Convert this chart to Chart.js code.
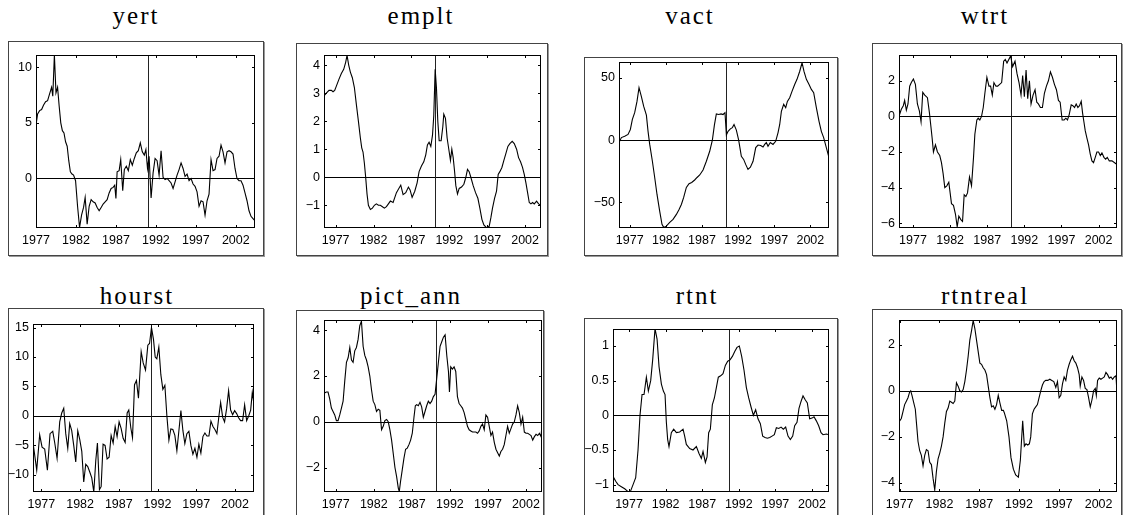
<!DOCTYPE html>
<html><head><meta charset="utf-8">
<script src="https://cdn.jsdelivr.net/npm/chart.js@4.4.1/dist/chart.umd.min.js"></script>
<style>
html,body{margin:0;padding:0;background:#fff;width:1125px;height:515px;overflow:hidden;}
body{position:relative;}
.box{position:absolute;border:1px solid #444;box-sizing:border-box;box-shadow:1px 1px 0 #999;}
.title{position:absolute;font-family:'Liberation Serif',serif;font-size:25px;letter-spacing:2px;color:#000;transform:translate(-50%,-50%);white-space:nowrap;line-height:1;}
.wrap{position:absolute;}
</style></head><body>
<script>
// ---------- data (year, value) ----------
const TITLES = ['yert','emplt','vact','wtrt','hourst','pict_ann','rtnt','rtntreal'];
const YEAR_TICKS = [1977,1982,1987,1992,1997,2002];

const yert = [[1977.0,4.8],[1977.2,5.8],[1977.45,6.1],[1977.7,6.2],[1977.95,6.6],[1978.2,6.9],[1978.45,7.0],[1978.7,7.6],[1978.95,8.2],[1979.1,7.4],[1979.3,11.1],[1979.5,7.7],[1979.7,8.2],[1979.9,6.5],[1980.1,5.0],[1980.3,4.3],[1980.5,4.1],[1980.7,3.3],[1980.9,2.9],[1981.1,1.6],[1981.3,0.6],[1981.5,0.4],[1981.7,0.3],[1981.95,-0.2],[1982.2,-2.5],[1982.45,-4.4],[1982.7,-3.3],[1982.95,-2.6],[1983.15,-1.7],[1983.4,-4.1],[1983.65,-2.5],[1983.9,-1.9],[1984.15,-2.1],[1984.4,-2.2],[1984.65,-2.6],[1984.9,-2.9],[1985.15,-2.6],[1985.4,-2.3],[1985.65,-2.1],[1985.9,-1.9],[1986.15,-1.3],[1986.4,-0.9],[1986.65,-0.8],[1986.85,-0.6],[1987.0,-1.8],[1987.15,0.6],[1987.4,0.7],[1987.6,1.7],[1987.85,-1.1],[1988.05,0.8],[1988.3,1.1],[1988.55,0.7],[1988.8,1.7],[1989.05,1.2],[1989.3,1.8],[1989.55,2.3],[1989.8,2.5],[1990.05,3.2],[1990.3,2.4],[1990.55,2.1],[1990.75,2.6],[1990.95,0.9],[1991.15,2.0],[1991.4,-1.75],[1991.65,0.5],[1991.9,1.8],[1992.15,1.6],[1992.4,0.3],[1992.65,2.5],[1992.9,0.1],[1993.15,-0.1],[1993.4,0.0],[1993.65,-0.2],[1993.9,-0.4],[1994.15,-0.9],[1994.4,-0.3],[1994.65,0.3],[1994.9,0.8],[1995.15,1.4],[1995.4,0.9],[1995.65,0.2],[1995.9,0.4],[1996.15,-0.2],[1996.4,0.0],[1996.65,-0.5],[1996.9,-0.7],[1997.15,-1.2],[1997.4,-2.5],[1997.65,-2.0],[1997.9,-2.1],[1998.15,-3.3],[1998.4,-2.0],[1998.65,-1.4],[1998.9,1.7],[1999.15,0.7],[1999.4,0.8],[1999.65,1.8],[1999.9,2.0],[2000.15,3.0],[2000.4,2.4],[2000.65,1.4],[2000.9,2.4],[2001.15,2.5],[2001.4,2.4],[2001.65,2.2],[2001.9,0.9],[2002.15,0.0],[2002.4,-0.2],[2002.65,-0.2],[2002.9,-0.6],[2003.15,-1.3],[2003.4,-2.0],[2003.65,-2.9],[2003.9,-3.4],[2004.15,-3.6],[2004.4,-3.8]];

const emplt = [[1975.46,2.9],[1975.77,3.0],[1976.12,3.1],[1976.43,3.1],[1976.65,3.05],[1976.87,3.1],[1977.09,3.25],[1977.44,3.5],[1977.75,3.7],[1978.06,3.85],[1978.32,4.1],[1978.5,4.35],[1978.72,4.0],[1978.94,3.75],[1979.2,3.55],[1979.47,3.2],[1979.73,2.6],[1980.0,2.0],[1980.26,1.4],[1980.44,1.05],[1980.61,0.9],[1980.79,0.5],[1980.96,0.0],[1981.14,-0.6],[1981.32,-1.0],[1981.58,-1.15],[1981.85,-1.1],[1982.11,-1.0],[1982.37,-0.95],[1982.64,-1.0],[1982.9,-1.0],[1983.17,-1.05],[1983.43,-1.1],[1983.7,-1.05],[1983.96,-0.95],[1984.22,-0.85],[1984.58,-0.9],[1985.02,-0.55],[1985.59,-0.28],[1985.9,-0.62],[1986.25,-0.55],[1986.6,-0.35],[1986.82,-0.45],[1987.09,-0.72],[1987.44,-0.5],[1987.75,-0.2],[1988.01,0.2],[1988.32,0.4],[1988.63,0.55],[1988.89,0.8],[1989.11,1.15],[1989.33,1.25],[1989.56,1.1],[1989.78,1.5],[1989.95,2.2],[1990.13,3.85],[1990.3,3.2],[1990.48,2.0],[1990.66,1.3],[1990.92,1.3],[1991.14,1.8],[1991.27,2.25],[1991.49,2.1],[1991.71,1.4],[1991.93,1.0],[1992.15,0.6],[1992.33,1.0],[1992.51,0.7],[1992.68,0.25],[1992.86,-0.3],[1993.08,-0.6],[1993.3,-0.4],[1993.61,-0.35],[1993.92,-0.25],[1994.18,0.0],[1994.4,0.28],[1994.62,0.2],[1994.84,0.0],[1995.15,-0.3],[1995.46,-0.55],[1995.77,-0.75],[1996.03,-1.1],[1996.3,-1.5],[1996.56,-1.7],[1996.91,-1.8],[1997.26,-1.75],[1997.48,-1.45],[1997.7,-1.1],[1997.97,-0.75],[1998.23,-0.5],[1998.45,0.1],[1998.67,0.2],[1998.94,0.35],[1999.2,0.6],[1999.47,0.85],[1999.73,1.1],[1999.99,1.2],[2000.3,1.28],[2000.57,1.2],[2000.88,1.0],[2001.14,0.7],[2001.4,0.55],[2001.66,0.35],[2001.89,0.1],[2002.11,-0.2],[2002.33,-0.55],[2002.55,-0.9],[2002.77,-0.95],[2002.99,-0.9],[2003.21,-0.95],[2003.52,-0.85],[2003.78,-0.95],[2004.09,-1.0]];

const vact = [[1975.52,-2],[1975.85,2],[1976.31,3],[1976.77,4.5],[1977.09,8.5],[1977.37,16.6],[1977.69,22],[1978.01,31],[1978.29,42],[1978.61,35],[1978.94,27],[1979.31,20],[1979.54,7],[1979.77,-3.5],[1980.14,-17],[1980.46,-30],[1980.78,-43.6],[1981.15,-57],[1981.47,-67.6],[1981.7,-70],[1982.07,-69],[1982.54,-66],[1983.0,-63.6],[1983.46,-59.6],[1983.83,-55.6],[1984.15,-51.6],[1984.47,-46],[1984.84,-38],[1985.21,-35],[1985.58,-34],[1985.99,-32],[1986.32,-30],[1986.69,-28],[1987.15,-24],[1987.61,-17],[1988.07,-9],[1988.44,0],[1988.72,12],[1988.99,21],[1989.32,20.5],[1989.64,21],[1989.92,20.5],[1990.19,22],[1990.38,4],[1990.61,7],[1990.93,9],[1991.21,10],[1991.44,12.5],[1991.76,8],[1992.08,0],[1992.45,-13],[1992.77,-15.5],[1993.05,-19.5],[1993.37,-23.5],[1993.7,-21.7],[1994.07,-17],[1994.44,-6],[1994.76,-4],[1995.13,-4.3],[1995.45,-5.6],[1995.68,-3.5],[1995.91,-2],[1996.14,-5],[1996.46,-2],[1996.83,-3.5],[1997.2,-1],[1997.53,6],[1997.76,12.5],[1997.99,23],[1998.31,28.6],[1998.59,26],[1998.82,31],[1999.14,34],[1999.46,39],[1999.83,44.6],[2000.15,48.7],[2000.52,55],[2000.85,62],[2001.12,55],[2001.45,48.7],[2001.82,44.6],[2002.14,40.6],[2002.46,38],[2002.83,26],[2003.2,15],[2003.52,7],[2003.84,2],[2004.21,-6],[2004.58,-14]];

const wtrt = [[1975.11,0.0],[1975.42,0.4],[1975.69,0.6],[1975.87,0.9],[1976.1,0.35],[1976.32,0.7],[1976.55,1.7],[1976.77,1.9],[1977.05,2.1],[1977.32,1.8],[1977.59,0.7],[1977.86,0.3],[1978.08,-0.3],[1978.31,1.35],[1978.58,1.2],[1978.94,1.05],[1979.21,0.2],[1979.39,-0.5],[1979.57,-1.2],[1979.75,-2.0],[1980.02,-1.6],[1980.29,-2.0],[1980.6,-2.2],[1980.83,-2.6],[1981.05,-3.2],[1981.28,-4.0],[1981.55,-3.9],[1981.82,-3.7],[1982.0,-4.3],[1982.18,-4.9],[1982.45,-5.0],[1982.72,-5.5],[1982.95,-6.2],[1983.17,-5.6],[1983.44,-5.8],[1983.67,-5.9],[1983.89,-4.4],[1984.12,-4.5],[1984.34,-4.3],[1984.61,-3.4],[1984.88,-3.9],[1985.15,-2.3],[1985.33,-1.0],[1985.6,-0.2],[1985.78,-0.1],[1986.0,-0.2],[1986.23,0.0],[1986.46,0.5],[1986.68,1.3],[1986.95,2.2],[1987.23,1.7],[1987.45,1.7],[1987.68,1.2],[1987.9,1.9],[1988.17,1.7],[1988.4,1.7],[1988.67,1.8],[1988.94,1.9],[1989.21,3.1],[1989.43,3.2],[1989.66,3.0],[1990.15,3.4],[1990.42,2.8],[1990.74,3.1],[1991.01,2.4],[1991.28,1.9],[1991.55,1.2],[1991.77,2.3],[1992.0,1.1],[1992.23,2.6],[1992.45,1.0],[1992.68,2.0],[1992.9,0.7],[1993.17,1.2],[1993.44,1.5],[1993.67,0.8],[1993.89,0.7],[1994.16,0.5],[1994.43,0.5],[1994.7,1.3],[1994.97,1.7],[1995.24,2.0],[1995.51,2.5],[1995.78,2.2],[1996.05,1.8],[1996.32,1.5],[1996.59,0.9],[1996.82,0.8],[1997.09,-0.2],[1997.36,-0.2],[1997.59,-0.1],[1997.81,-0.2],[1998.04,0.1],[1998.31,0.65],[1998.53,0.6],[1998.76,0.5],[1998.98,0.7],[1999.21,0.5],[1999.43,0.6],[1999.66,0.85],[1999.84,0.2],[2000.02,-0.3],[2000.2,-0.8],[2000.42,-1.2],[2000.65,-1.6],[2000.87,-2.1],[2001.1,-2.5],[2001.32,-2.6],[2001.55,-2.3],[2001.77,-2.0],[2002.0,-2.0],[2002.23,-2.2],[2002.45,-2.05],[2002.72,-2.3],[2002.95,-2.4],[2003.17,-2.3],[2003.44,-2.5],[2003.8,-2.5],[2004.48,-2.7]];

const hourst = [[1975.92,-4.5],[1976.4,-9.2],[1976.78,-3.2],[1977.09,-5.3],[1977.43,-5.6],[1977.78,-9.2],[1978.12,-3.0],[1978.47,-2.6],[1978.72,-4.5],[1979.03,-7.2],[1979.37,-1.0],[1979.63,0.5],[1979.89,1.3],[1980.15,-3.0],[1980.41,-5.5],[1980.66,-1.3],[1980.92,-2.5],[1981.18,-5.0],[1981.44,-7.8],[1981.7,-2.5],[1981.96,-4.0],[1982.22,-6.0],[1982.47,-11.2],[1982.73,-8.2],[1982.99,-8.6],[1983.25,-9.5],[1983.51,-10.5],[1983.77,-12.9],[1984.03,-7.5],[1984.24,-4.6],[1984.5,-12.5],[1984.72,-12.0],[1984.97,-4.8],[1985.23,-5.0],[1985.49,-7.3],[1985.75,-7.0],[1986.01,-3.3],[1986.27,-4.6],[1986.53,-1.8],[1986.78,-3.5],[1987.04,-1.0],[1987.3,-2.1],[1987.56,-3.8],[1987.82,-4.5],[1988.08,0.5],[1988.29,1.0],[1988.55,-2.0],[1988.77,-3.7],[1989.03,5.3],[1989.28,6.0],[1989.54,3.0],[1989.89,10.9],[1990.15,9.0],[1990.45,7.8],[1990.75,12.0],[1990.97,12.3],[1991.22,15.0],[1991.48,13.0],[1991.7,10.0],[1991.91,9.7],[1992.17,11.7],[1992.43,7.0],[1992.69,4.5],[1992.95,5.2],[1993.21,0.0],[1993.47,-4.1],[1993.72,-2.2],[1993.98,-2.3],[1994.24,-3.3],[1994.5,-5.9],[1994.76,-2.5],[1995.02,0.9],[1995.28,-2.5],[1995.53,-4.7],[1995.79,-3.0],[1996.05,-2.6],[1996.31,-5.0],[1996.57,-6.5],[1996.83,-5.5],[1997.09,-7.0],[1997.34,-4.8],[1997.6,-6.3],[1997.86,-3.5],[1998.12,-2.9],[1998.38,-3.4],[1998.64,-3.4],[1998.9,-0.9],[1999.16,-1.8],[1999.41,-2.3],[1999.67,-3.0],[1999.93,0.0],[2000.15,2.3],[2000.41,-0.2],[2000.66,-1.0],[2000.92,1.2],[2001.18,4.3],[2001.44,1.0],[2001.7,0.2],[2001.96,0.9],[2002.22,0.4],[2002.47,-0.3],[2002.73,-0.8],[2002.99,-0.8],[2003.25,1.9],[2003.51,-0.8],[2003.77,0.0],[2004.03,1.0],[2004.24,4.0],[2004.46,2.0]];

const pict_ann = [[1975.46,1.25],[1975.77,1.3],[1975.99,1.3],[1976.21,1.0],[1976.43,0.6],[1976.65,0.45],[1976.87,0.3],[1977.09,0.05],[1977.31,0.05],[1977.53,0.3],[1977.75,0.6],[1977.97,0.9],[1978.19,1.8],[1978.41,2.6],[1978.63,2.8],[1978.85,3.25],[1979.07,2.7],[1979.28,2.6],[1979.5,3.1],[1979.72,3.25],[1979.94,3.6],[1980.16,4.2],[1980.38,4.4],[1980.6,3.3],[1980.82,2.9],[1981.04,2.7],[1981.26,2.4],[1981.48,2.0],[1981.7,1.4],[1981.92,0.9],[1982.14,0.75],[1982.36,0.45],[1982.58,0.55],[1982.8,0.5],[1983.02,-0.35],[1983.24,-0.2],[1983.46,0.05],[1983.68,0.1],[1983.9,0.0],[1984.12,-0.35],[1984.34,-0.8],[1984.56,-1.4],[1984.78,-2.0],[1985.0,-2.4],[1985.22,-2.9],[1985.35,-3.05],[1985.52,-2.6],[1985.74,-2.1],[1985.96,-1.6],[1986.18,-1.2],[1986.4,-1.15],[1986.62,-1.0],[1986.84,-0.8],[1987.06,-0.5],[1987.28,0.2],[1987.46,0.7],[1987.63,0.75],[1987.85,0.7],[1988.07,0.85],[1988.29,0.65],[1988.51,0.2],[1988.73,0.45],[1988.95,0.7],[1989.17,0.9],[1989.39,0.8],[1989.61,0.9],[1989.83,1.1],[1990.05,1.2],[1990.27,1.9],[1990.49,2.6],[1990.71,3.3],[1990.93,3.5],[1991.15,3.7],[1991.37,3.8],[1991.59,2.9],[1991.81,2.2],[1991.94,1.3],[1992.11,2.4],[1992.33,2.3],[1992.55,2.4],[1992.77,2.2],[1992.99,1.1],[1993.21,0.8],[1993.43,0.7],[1993.65,0.6],[1993.87,0.4],[1994.09,0.1],[1994.31,-0.2],[1994.53,-0.35],[1994.75,-0.4],[1994.97,-0.45],[1995.19,-0.45],[1995.41,-0.45],[1995.63,-0.5],[1995.85,-0.4],[1996.07,-0.2],[1996.29,-0.1],[1996.51,-0.35],[1996.73,0.3],[1996.95,0.2],[1997.17,-0.2],[1997.39,-0.6],[1997.6,-0.45],[1997.83,-0.9],[1998.05,-1.2],[1998.27,-1.35],[1998.49,-1.5],[1998.7,-1.3],[1998.92,-1.2],[1999.14,-1.0],[1999.36,-0.6],[1999.58,-0.2],[1999.8,-0.5],[2000.02,-0.3],[2000.24,-0.1],[2000.46,0.0],[2000.68,0.3],[2000.9,0.7],[2001.12,0.4],[2001.34,-0.1],[2001.56,0.2],[2001.78,-0.45],[2002.0,-0.5],[2002.22,-0.5],[2002.44,-0.55],[2002.66,-0.6],[2002.88,-0.8],[2003.1,-0.65],[2003.32,-0.55],[2003.54,-0.6],[2003.76,-0.5],[2003.98,-0.65],[2004.11,-0.05]];

const rtnt = [[1974.81,-0.88],[1975.18,-0.95],[1975.5,-1.0],[1975.95,-1.03],[1976.41,-1.06],[1976.86,-1.1],[1977.18,-1.1],[1977.55,-1.0],[1977.91,-0.9],[1978.23,-0.5],[1978.5,0.0],[1978.78,0.3],[1979.05,0.3],[1979.37,0.55],[1979.64,0.35],[1979.96,0.5],[1980.23,0.8],[1980.55,1.25],[1980.83,1.1],[1981.1,0.7],[1981.42,0.45],[1981.69,0.35],[1981.92,0.3],[1982.1,-0.1],[1982.28,-0.35],[1982.46,-0.45],[1982.78,-0.25],[1983.1,-0.2],[1983.47,-0.25],[1983.92,-0.24],[1984.38,-0.2],[1984.6,-0.3],[1984.83,-0.42],[1985.29,-0.48],[1985.74,-0.5],[1986.2,-0.45],[1986.56,-0.55],[1986.88,-0.62],[1987.11,-0.52],[1987.43,-0.68],[1987.66,-0.6],[1987.88,-0.25],[1988.11,-0.2],[1988.38,0.15],[1988.66,0.25],[1988.93,0.4],[1989.2,0.55],[1989.52,0.57],[1989.84,0.6],[1990.16,0.72],[1990.48,0.78],[1990.8,0.8],[1991.12,0.85],[1991.44,0.92],[1991.75,0.98],[1992.07,1.0],[1992.39,0.85],[1992.71,0.65],[1993.03,0.4],[1993.35,0.25],[1993.67,0.12],[1993.99,0.0],[1994.3,0.08],[1994.62,-0.05],[1994.94,-0.12],[1995.26,-0.3],[1995.58,-0.32],[1995.9,-0.33],[1996.22,-0.32],[1996.54,-0.3],[1996.85,-0.28],[1997.13,-0.18],[1997.45,-0.19],[1997.77,-0.17],[1998.08,-0.2],[1998.4,-0.17],[1998.72,-0.3],[1999.04,-0.35],[1999.36,-0.3],[1999.63,-0.15],[1999.95,-0.1],[2000.22,0.1],[2000.5,0.2],[2000.77,0.28],[2001.09,0.22],[2001.36,0.18],[2001.68,-0.05],[2002.0,-0.04],[2002.27,-0.02],[2002.59,-0.08],[2002.91,-0.15],[2003.23,-0.25],[2003.5,-0.28],[2003.96,-0.27],[2004.32,-0.28]];

const rtntreal = [[1976.92,-1.35],[1977.21,-1.2],[1977.42,-0.9],[1977.63,-0.6],[1977.84,-0.45],[1978.05,-0.3],[1978.26,-0.05],[1978.39,0.0],[1978.55,-0.2],[1978.76,-0.5],[1978.97,-0.8],[1979.14,-1.5],[1979.31,-2.2],[1979.52,-2.6],[1979.73,-2.8],[1979.94,-3.25],[1980.15,-2.8],[1980.36,-2.55],[1980.57,-2.6],[1980.78,-3.1],[1980.99,-3.2],[1981.2,-3.8],[1981.41,-4.3],[1981.62,-3.5],[1981.83,-2.95],[1982.04,-2.7],[1982.25,-2.4],[1982.46,-2.0],[1982.67,-1.4],[1982.88,-0.9],[1983.09,-0.75],[1983.3,-0.45],[1983.51,-0.5],[1983.72,-0.55],[1983.93,-0.45],[1984.14,0.35],[1984.35,0.2],[1984.56,0.0],[1984.77,-0.05],[1984.98,0.05],[1985.19,0.4],[1985.4,0.9],[1985.61,1.5],[1985.82,2.2],[1986.03,2.6],[1986.24,3.05],[1986.45,2.7],[1986.66,2.2],[1986.87,1.7],[1987.08,1.2],[1987.29,1.15],[1987.5,1.0],[1987.71,0.9],[1987.92,0.7],[1988.13,0.2],[1988.34,-0.3],[1988.55,-0.7],[1988.76,-0.65],[1988.97,-0.8],[1989.18,-0.6],[1989.39,-0.2],[1989.61,-0.55],[1989.82,-0.85],[1990.03,-0.85],[1990.15,-0.95],[1990.45,-1.3],[1990.74,-2.0],[1990.99,-2.9],[1991.29,-3.4],[1991.58,-3.65],[1991.92,-3.75],[1992.17,-3.0],[1992.46,-1.3],[1992.67,-2.4],[1992.88,-2.3],[1993.09,-2.35],[1993.3,-2.3],[1993.47,-2.0],[1993.68,-1.0],[1993.89,-0.8],[1994.1,-0.7],[1994.31,-0.6],[1994.52,-0.3],[1994.73,0.0],[1994.94,0.25],[1995.15,0.4],[1995.36,0.45],[1995.61,0.45],[1995.87,0.5],[1996.12,0.45],[1996.37,0.4],[1996.62,0.15],[1996.83,0.4],[1997.04,-0.3],[1997.25,-0.2],[1997.46,0.3],[1997.67,0.6],[1997.88,0.45],[1998.09,0.9],[1998.3,1.15],[1998.51,1.35],[1998.72,1.5],[1998.93,1.3],[1999.14,1.2],[1999.35,1.0],[1999.56,0.7],[1999.69,0.2],[1999.9,0.6],[2000.11,0.45],[2000.32,0.1],[2000.53,0.05],[2000.74,-0.3],[2000.95,-0.7],[2001.16,-0.4],[2001.37,0.0],[2001.58,0.1],[2001.71,-0.2],[2001.87,0.45],[2002.08,0.55],[2002.29,0.5],[2002.5,0.55],[2002.71,0.6],[2002.92,0.8],[2003.13,0.7],[2003.34,0.55],[2003.55,0.6],[2003.76,0.5],[2003.97,0.6],[2004.18,0.65],[2004.31,-0.1]];

// y tick labels
const yertTicks = [0,5,10];
const empltTicks = [-1,0,1,2,3,4];
const vactTicks = [-50,0,50];
const wtrtTicks = [-6,-4,-2,0,2];
const hourstTicks = [-10,-5,0,5,10,15];
const pictTicks = [-2,0,2,4];
const rtntTicks = [-1,-0.5,0,0.5,1];
const rtntrealTicks = [-4,-2,0,2];

// axis ranges [xmin, xmax, ymin, ymax] and vertical marker year
const RANGES = [
  [1977.0, 2004.4, -4.45, 11.1],
  [1975.46, 2004.1, -1.81, 4.36],
  [1975.52, 2004.58, -70.5, 62.6],
  [1975.11, 2004.48, -6.27, 3.45],
  [1975.92, 2004.46, -12.9, 15.6],
  [1975.46, 2004.1, -3.07, 4.45],
  [1974.81, 2004.32, -1.106, 1.245],
  [1976.92, 2004.31, -4.39, 3.07]
];
const VLINES = [1991.0, 1990.15, 1990.38, 1990.2, 1991.22, 1990.14, 1990.62, null];

const SERIES = [yert, emplt, vact, wtrt, hourst, pict_ann, rtnt, rtntreal];
const YTICKS = [yertTicks, empltTicks, vactTicks, wtrtTicks, hourstTicks, pictTicks, rtntTicks, rtntrealTicks];

// ---------- layout (pixels) ----------
const LAYOUT = [
  {box:[8,41,264,256],   plot:[36,55,255,228],  title:[136,15]},
  {box:[296,43,548,256], plot:[324,55,541,228], title:[421,15]},
  {box:[584,57,838,256], plot:[619,62,829,228], title:[690,15]},
  {box:[872,43,1122,256],plot:[899,55,1117,228],title:[985,15]},
  {box:[8,308,264,520],  plot:[33,324,254,492], title:[137,295]},
  {box:[296,310,544,520],plot:[324,320,542,492],title:[411,295]},
  {box:[584,318,838,520],plot:[613,329,829,492],title:[697,295]},
  {box:[872,309,1122,520],plot:[899,320,1117,492],title:[985,295]}
];
const YW = 40, PT = 14, PR = 18, XH = 24;
const TICKFONT = {family:"'Liberation Sans', Arial, sans-serif", size:12.5};

const refPlugin = {
  id: 'refs',
  beforeDatasetsDraw(chart, args, opts) {
    const {ctx, chartArea: a, scales: {x, y}} = chart;
    ctx.save();
    ctx.lineWidth = 1;
    ctx.strokeStyle = '#000';
    const y0 = Math.round(y.getPixelForValue(0)) + 0.5;
    ctx.beginPath(); ctx.moveTo(a.left, y0); ctx.lineTo(a.right, y0); ctx.stroke();
    if (opts.vline !== null && opts.vline !== undefined) {
      const xv = Math.round(x.getPixelForValue(opts.vline)) + 0.5;
      ctx.strokeStyle = '#222';
      ctx.beginPath(); ctx.moveTo(xv, a.top); ctx.lineTo(xv, a.bottom); ctx.stroke();
    }
    ctx.restore();
  },
  afterDraw(chart) {
    const {ctx, chartArea: a, scales: {x, y}} = chart;
    ctx.save();
    ctx.lineWidth = 1;
    ctx.strokeStyle = '#000';
    ctx.strokeRect(a.left + 0.5, a.top + 0.5, a.right - a.left - 1, a.bottom - a.top - 1);
    const L = 3;
    ctx.beginPath();
    x.ticks.forEach(t => {
      const px = Math.round(x.getPixelForValue(t.value)) + 0.5;
      ctx.moveTo(px, a.bottom); ctx.lineTo(px, a.bottom - L);
      ctx.moveTo(px, a.top); ctx.lineTo(px, a.top + L);
    });
    y.ticks.forEach(t => {
      const py = Math.round(y.getPixelForValue(t.value)) + 0.5;
      ctx.moveTo(a.left, py); ctx.lineTo(a.left + L, py);
      ctx.moveTo(a.right, py); ctx.lineTo(a.right - L, py);
    });
    ctx.stroke();
    ctx.restore();
  }
};

function fmt(v) {
  return v < 0 ? '\u2212' + String(Math.abs(v)) : String(v);
}

SERIES.forEach((series, i) => {
  const L = LAYOUT[i];
  const [bx0, by0, bx1, by1] = L.box;
  const box = document.createElement('div');
  box.className = 'box';
  box.style.left = bx0 + 'px'; box.style.top = by0 + 'px';
  box.style.width = (bx1 - bx0) + 'px'; box.style.height = (by1 - by0) + 'px';
  document.body.appendChild(box);

  const t = document.createElement('div');
  t.className = 'title';
  t.textContent = TITLES[i];
  t.style.left = L.title[0] + 'px'; t.style.top = L.title[1] + 'px';
  document.body.appendChild(t);

  const [px0, py0, px1, py1] = L.plot;
  const w = YW + (px1 - px0) + PR, h = PT + (py1 - py0) + XH;
  const wrap = document.createElement('div');
  wrap.className = 'wrap';
  wrap.style.left = (px0 - YW) + 'px'; wrap.style.top = (py0 - PT) + 'px';
  wrap.style.width = w + 'px'; wrap.style.height = h + 'px';
  const cv = document.createElement('canvas');
  cv.width = w; cv.height = h;
  cv.style.width = w + 'px'; cv.style.height = h + 'px';
  wrap.appendChild(cv);
  document.body.appendChild(wrap);

  const [xmin, xmax, ymin, ymax] = RANGES[i];
  const yt = YTICKS[i];
  new Chart(cv, {
    type: 'line',
    data: {
      datasets: [{
        data: series.map(p => ({x: p[0], y: p[1]})),
        borderColor: '#000', borderWidth: 1.1, pointRadius: 0, tension: 0, fill: false
      }]
    },
    options: {
      responsive: false, animation: false, devicePixelRatio: 1,
      layout: {padding: {left: 0, top: PT, right: PR, bottom: 0}},
      plugins: {legend: {display: false}, tooltip: {enabled: false}, refs: {vline: VLINES[i]}},
      scales: {
        x: {
          type: 'linear', min: xmin, max: xmax,
          afterBuildTicks: s => { s.ticks = YEAR_TICKS.map(v => ({value: v})); },
          afterFit: s => { s.height = XH; },
          grid: {display: false, drawTicks: false}, border: {display: false},
          ticks: {autoSkip: false, maxRotation: 0, padding: 5, color: '#000', font: TICKFONT, callback: v => String(v)}
        },
        y: {
          type: 'linear', min: ymin, max: ymax,
          afterBuildTicks: s => { s.ticks = yt.map(v => ({value: v})); },
          afterFit: s => { s.width = YW; },
          grid: {display: false, drawTicks: false}, border: {display: false},
          ticks: {padding: 4, color: '#000', font: TICKFONT, callback: v => fmt(v)}
        }
      }
    },
    plugins: [refPlugin]
  });
});
</script>
</body></html>
